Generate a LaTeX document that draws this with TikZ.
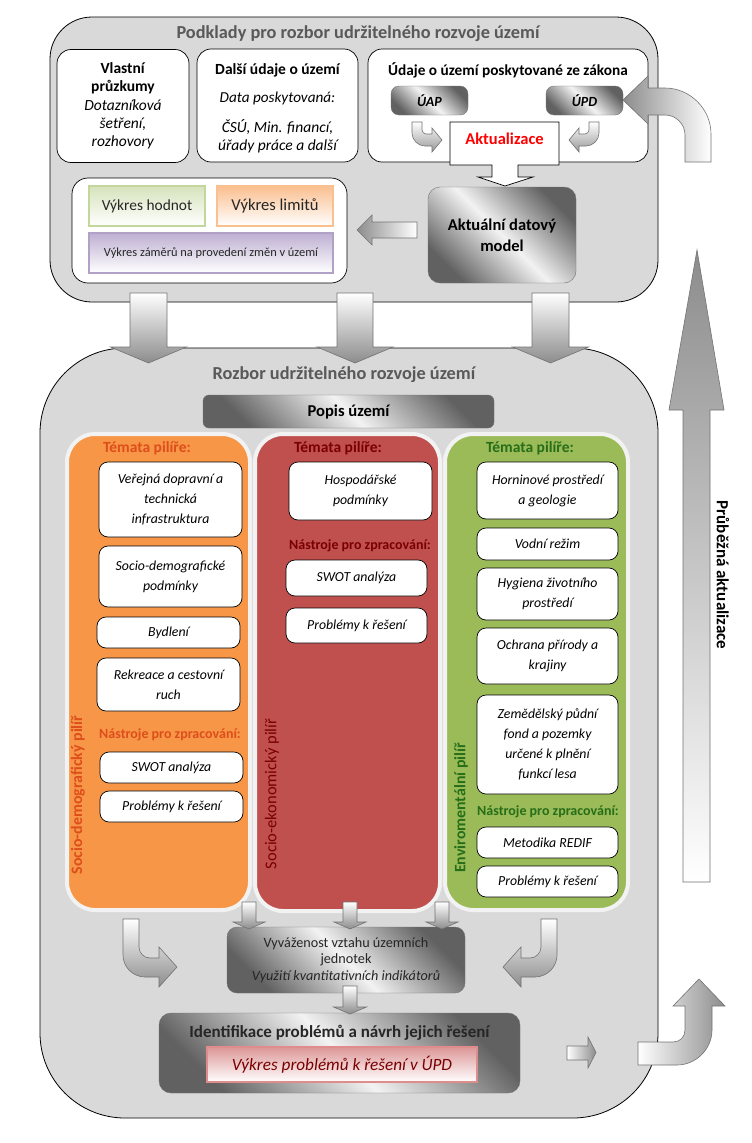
\documentclass[tikz,border=0pt]{standalone}
\usepackage{fontspec}
\setmainfont{Carlito}
\usepackage{xcolor}
\definecolor{panelgray}{RGB}{217,217,217}
\definecolor{titlegray}{RGB}{89,89,89}
\definecolor{rimgray}{RGB}{242,242,242}
\definecolor{pilorange}{RGB}{247,150,70}
\definecolor{pilred}{RGB}{192,80,77}
\definecolor{pilgreen}{RGB}{155,187,89}
\definecolor{txtorange}{RGB}{222,78,28}
\definecolor{txtred}{RGB}{122,0,0}
\definecolor{txtgreen}{RGB}{38,110,24}
\definecolor{hodnotrim}{RGB}{195,214,155}
\definecolor{hodnotfill}{RGB}{214,227,188}
\definecolor{limitrim}{RGB}{250,192,143}
\definecolor{limitfill}{RGB}{250,191,143}
\definecolor{zamerrim}{RGB}{178,161,199}
\definecolor{zamerfill}{RGB}{190,175,210}
\definecolor{problrim}{RGB}{222,140,140}
\definecolor{problfill}{RGB}{220,150,150}
\usetikzlibrary{positioning,calc}

\tikzset{
  panel/.style={draw=black, fill=panelgray, line width=0.8pt},
  srcbox/.style={draw=black, fill=white, rounded corners=14, line width=0.7pt, inner sep=0pt},
  metal/.style={draw=black!55, rounded corners=8, inner sep=0pt, top color=black!62, bottom color=black!62, middle color=black!5, shading angle=-45},
  pillar/.style={draw=rimgray, line width=4pt, rounded corners=28},
  topic/.style={draw=black, fill=white, rounded corners=9, line width=0.7pt, inner sep=0pt, align=center, font=\fontsize{13.8}{20}\selectfont\itshape},
  pilhead/.style={font=\fontsize{15.5}{18}\selectfont\bfseries},
  tools/.style={font=\fontsize{14}{17}\selectfont\bfseries},
  pillabel/.style={rotate=90, font=\fontsize{15.9}{18}\selectfont\bfseries},
  drawbox/.style={line width=1.6pt, inner sep=0pt, text=black!85, shading angle=45},
  blockarr/.style={draw=black!55, line width=0.6pt},
  ptitle/.style={font=\fontsize{18.3}{21}\selectfont\bfseries, text=titlegray}
}

\begin{document}
\begin{tikzpicture}[x=1pt, y=-1pt]
  \useasboundingbox (0,0) rectangle (752,1143);

  % Upper panel
  \draw[panel, rounded corners=42] (50,17) rectangle (658,302);
  \node[ptitle] (podklady) at (358,34) {Podklady pro rozbor udržitelného rozvoje území};

  \node[srcbox, minimum width=132, minimum height=113, align=center, font=\fontsize{15.5}{18.3}\selectfont] (vlastni) at (123,106)
    {\textbf{Vlastní}\\\textbf{průzkumy}\\\textit{Dotazníková}\\\textit{šetření,}\\\textit{rozhovory}};

  \node[srcbox, minimum width=161, minimum height=113] (dalsi) at (277.5,105.5) {};
  \node[font=\fontsize{15.5}{18}\selectfont\bfseries] (dalsititle) at (277.5,70) {Další údaje o území};
  \node[font=\fontsize{15.2}{18}\selectfont\itshape] (dalsidata) at (277.5,98) {Data poskytovaná:};
  \node[align=center, font=\fontsize{15.5}{18}\selectfont\itshape] (dalsiinst) at (277.5,136) {ČSÚ, Min. financí,\\úřady práce a další};

  \node[srcbox, minimum width=280, minimum height=113] (zakon) at (508,105.5) {};
  \node[font=\fontsize{15.3}{18}\selectfont\bfseries] (zakontitle) at (508,70) {Údaje o území poskytované ze zákona};
  \node[metal, minimum width=77, minimum height=29, font=\fontsize{14}{16}\selectfont\bfseries\itshape] (uap) at (429.5,100.5) {ÚAP};
  \node[metal, minimum width=77, minimum height=29, font=\fontsize{14}{16}\selectfont\bfseries\itshape] (upd) at (584.5,100.5) {ÚPD};

  % small bent arrows into Aktualizace
  \path[blockarr, top color=white, bottom color=black!40] (412,122) -- (412,133) .. controls (412,140) and (418,146) .. (425,146) -- (432,146) -- (432,152) -- (442,140) -- (432,128) -- (432,134) -- (426,134) .. controls (424,134) and (422,132) .. (422,130) -- (422,122) -- cycle;
  \begin{scope}[xshift=1011pt, xscale=-1]
    \path[blockarr, top color=white, bottom color=black!40] (412,122) -- (412,133) .. controls (412,140) and (418,146) .. (425,146) -- (432,146) -- (432,152) -- (442,140) -- (432,128) -- (432,134) -- (426,134) .. controls (424,134) and (422,132) .. (422,130) -- (422,122) -- cycle;
  \end{scope}

  % Aktualizace callout
  \draw[fill=white, line width=0.7pt] (450,122) -- (559,122) -- (559,165) -- (518,165) -- (518,177) -- (533,177) -- (505,186) -- (478,177) -- (492,177) -- (492,165) -- (450,165) -- cycle;
  \node[font=\fontsize{16.5}{19}\selectfont\bfseries, text=red] (aktualizace) at (504.5,139) {Aktualizace};

  \node[metal, rounded corners=12, minimum width=148, minimum height=96, align=center, font=\fontsize{16.5}{21}\selectfont\bfseries] (model) at (502,235) {Aktuální datový\\model};

  % Drawings
  \node[srcbox, rounded corners=16, minimum width=275, minimum height=105] (vykresy) at (209.5,230.5) {};
  \node[drawbox, draw=hodnotrim, top color=hodnotfill, bottom color=white, minimum width=116, minimum height=40, font=\fontsize{15.4}{17}\selectfont] (hodnot) at (147,206) {Výkres hodnot};
  \node[drawbox, draw=limitrim, top color=limitfill, bottom color=white, minimum width=116, minimum height=40, font=\fontsize{16.6}{19}\selectfont] (limity) at (275,206) {Výkres limitů};
  \node[drawbox, draw=zamerrim, top color=zamerfill, bottom color=white, minimum width=244, minimum height=40, font=\fontsize{12.4}{14}\selectfont] (zamery) at (211,253) {Výkres záměrů na provedení změn v území};

  \path[blockarr, left color=black!45, right color=white] (417,222) -- (372,222) -- (372,215) -- (357,230) -- (372,245) -- (372,238) -- (417,238) -- cycle;

  % Lower panel
  \draw[panel, rounded corners=85] (40,348) rectangle (658,1118);
  \node[ptitle] (rozbor) at (344,375) {Rozbor udržitelného rozvoje území};
  \node[metal, rounded corners=6, minimum width=291, minimum height=33, font=\fontsize{16.6}{19}\selectfont\bfseries] (popis) at (348.5,411.5) {Popis území};

  % Pillars
  \draw[pillar, fill=pilorange] (67,434) rectangle (250,910);
  \draw[pillar, fill=pilred] (255,434) rectangle (440,911);
  \draw[pillar, fill=pilgreen] (445,434) rectangle (628,910);

  % Socio-demographic pillar
  \node[pilhead, text=txtorange] (tema1) at (147,448) {Témata pilíře:};
  \node[topic, minimum width=143, minimum height=75] (infra) at (170.5,499.5) {Veřejná dopravní a\\technická\\infrastruktura};
  \node[topic, minimum width=143, minimum height=61] (sociodem) at (170.5,576.5) {Socio-demografické\\podmínky};
  \node[topic, minimum width=143, minimum height=31] (bydleni) at (168.5,632.5) {Bydlení};
  \node[topic, minimum width=143, minimum height=53] (rekreace) at (168.5,684.5) {Rekreace a cestovní\\ruch};
  \node[tools, text=txtorange] (nastroje1) at (170,735) {Nástroje pro zpracování:};
  \node[topic, minimum width=143, minimum height=31] (swot1) at (171.5,767.5) {SWOT analýza};
  \node[topic, minimum width=143, minimum height=31] (probl1) at (171.5,806.5) {Problémy k řešení};
  \node[pillabel, text=txtorange] (pilir1) at (78,795) {Socio-demografický pilíř};

  % Socio-economic pillar
  \node[pilhead, text=txtred] (tema2) at (338,448) {Témata pilíře:};
  \node[topic, minimum width=143, minimum height=58] (hosp) at (360.5,491) {Hospodářské\\podmínky};
  \node[tools, text=txtred] (nastroje2) at (360,546) {Nástroje pro zpracování:};
  \node[topic, minimum width=141, minimum height=36] (swot2) at (356.5,578) {SWOT analýza};
  \node[topic, minimum width=141, minimum height=35] (probl2) at (356.5,625.5) {Problémy k řešení};
  \node[pillabel, font=\fontsize{16.5}{18}\selectfont\mdseries, text=txtred] (pilir2) at (272,794) {Socio-ekonomický pilíř};

  % Environmental pillar
  \node[pilhead, text=txtgreen] (tema3) at (530,448) {Témata pilíře:};
  \node[topic, minimum width=141, minimum height=57] (hornin) at (547.5,490.5) {Horninové prostředí\\a geologie};
  \node[topic, minimum width=141, minimum height=32] (vodni) at (547.5,544) {Vodní režim};
  \node[topic, minimum width=141, minimum height=52] (hygiena) at (547.5,594) {Hygiena životního\\prostředí};
  \node[topic, minimum width=141, minimum height=56] (ochrana) at (547.5,656) {Ochrana přírody a\\krajiny};
  \node[topic, minimum width=141, minimum height=99] (zpf) at (547.5,744.5) {Zemědělský půdní\\fond a pozemky\\určené k plnění\\funkcí lesa};
  \node[tools, text=txtgreen] (nastroje3) at (548,812) {Nástroje pro zpracování:};
  \node[topic, minimum width=141, minimum height=31] (redif) at (547.5,842.5) {Metodika REDIF};
  \node[topic, minimum width=141, minimum height=31] (probl3) at (547.5,881.5) {Problémy k řešení};
  \node[pillabel, text=txtgreen] (pilir3) at (461,808) {Enviromentální pilíř};

  % Synthesis
  \node[metal, rounded corners=10, minimum width=238, minimum height=66, align=center, font=\fontsize{14.2}{16.5}\selectfont, text=black!85] (vyvazenost) at (346,960)
    {Vyváženost vztahu územních\\jednotek\\\textit{Využití kvantitativních indikátorů}};
  \node[metal, rounded corners=12, minimum width=361, minimum height=80] (identifikace) at (339.5,1053) {};
  \node[font=\fontsize{17}{20}\selectfont\bfseries, text=black!85] (identtitle) at (339.5,1033) {Identifikace problémů a návrh jejich řešení};
  \node[drawbox, draw=problrim, top color=problfill, bottom color=white, minimum width=270, minimum height=35, font=\fontsize{17.2}{20}\selectfont\itshape, text=txtred] (vykresprobl) at (342,1064.5) {Výkres problémů k řešení v ÚPD};

  % Bent arrows from the pillars
  \path[blockarr, top color=white, bottom color=black!45] (123,919) -- (123,955) .. controls (123,967) and (133,977) .. (145,977) -- (159,977) -- (159,987) -- (177,967) -- (159,947) -- (159,958) -- (150,958) .. controls (144,958) and (139,953) .. (139,947) -- (139,919) -- cycle;
  \begin{scope}[xshift=680pt, xscale=-1]
    \path[blockarr, top color=white, bottom color=black!45] (123,919) -- (123,955) .. controls (123,967) and (133,977) .. (145,977) -- (159,977) -- (159,987) -- (177,967) -- (159,947) -- (159,958) -- (150,958) .. controls (144,958) and (139,953) .. (139,947) -- (139,919) -- cycle;
  \end{scope}

  % Straight down arrows
  \foreach \x/\t/\b/\p/\s/\h in {148.5/293/347/363/18.5/38, 355/293/347/363/18/38, 550.5/293/347/363/18.5/38,
      249/902/922/929/7/16, 350/902/922/929/7/16, 442/902/922/929/7/16, 350/986/1007/1014/7/16.5}
    \path[blockarr, top color=white, bottom color=black!45] (\x-\s,\t) -- (\x+\s,\t) -- (\x+\s,\b) -- (\x+\h,\b) -- (\x,\p) -- (\x-\h,\b) -- (\x-\s,\b) -- cycle;

  % Updating loop
  \path[blockarr, left color=white, right color=black!45] (567,1046) -- (588,1046) -- (588,1037) -- (596,1052.5) -- (588,1068) -- (588,1060) -- (567,1060) -- cycle;
  \path[blockarr, left color=white, right color=black!45] (638,1042) -- (673,1042) .. controls (680,1042) and (685,1037) .. (685,1030) -- (685,1006) -- (673,1006) -- (699,979) -- (725,1006) -- (712,1006) -- (712,1030) .. controls (712,1049) and (696,1065) .. (677,1065) -- (638,1065) -- cycle;
  \path[blockarr, top color=black!45, bottom color=white] (683,882) -- (683,410) -- (669,410) -- (697,250) -- (724,410) -- (710,410) -- (710,882) -- cycle;
  \node[rotate=-90, font=\fontsize{17}{19}\selectfont\bfseries] (prubezna) at (723,575) {Průběžná aktualizace};
  \path[blockarr, left color=black!45, right color=white] (623,100) -- (648,76) -- (648,88) -- (665,88) .. controls (690,88) and (711,109) .. (711,134) -- (711,162) -- (685,162) -- (685,135) .. controls (685,124) and (676,115) .. (665,115) -- (648,115) -- (648,124) -- cycle;
\end{tikzpicture}
\end{document}
